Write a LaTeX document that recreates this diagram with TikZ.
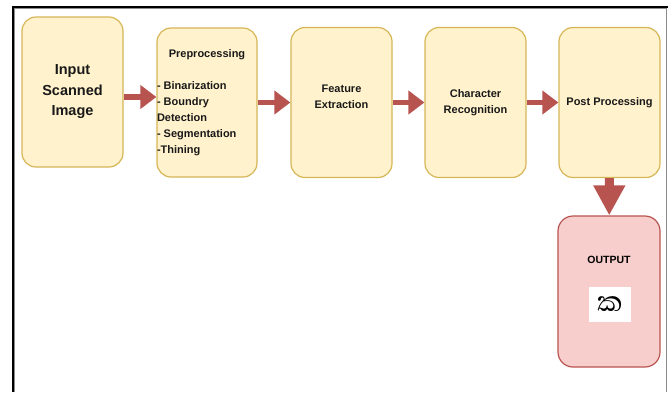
\documentclass[tikz,border=0pt]{standalone}
\usepackage{fontspec}
\setmainfont{Liberation Sans}
\newfontfamily\sinhalafont[Script=Sinhala]{Abhaya Libre}
\usepackage{tikz}
\usetikzlibrary{arrows.meta}
\usetikzlibrary{positioning}
\definecolor{stagefill}{HTML}{FFF2CC}
\definecolor{stageline}{HTML}{D6B656}
\definecolor{outfill}{HTML}{F8CECC}
\definecolor{redline}{HTML}{B85450}
\tikzset{
  % common look of the pipeline boxes
  stage/.style={rectangle, draw=stageline, fill=stagefill, line width=1.2pt,
                rounded corners=14pt, minimum width=101pt, minimum height=150pt,
                inner sep=0pt, align=center, text=black!90,
                font=\bfseries\fontsize{11}{16}\selectfont}
}

\begin{document}
\begin{tikzpicture}[
    x=1pt, y=-1pt,
    bigtext/.style={font=\bfseries\fontsize{14.5}{20.5}\selectfont},
    outbox/.style={stage, draw=redline, fill=outfill, rounded corners=15pt,
                   minimum width=102pt, minimum height=151pt},
    glyphbox/.style={rectangle, fill=white, minimum width=42pt, minimum height=35pt,
                     inner sep=0pt, font=\fontsize{36}{36}\selectfont},
    flow/.style={-{Triangle[length=16pt,width=23pt]}, line width=5.5pt, draw=redline},
    drop/.style={-{Triangle[length=30pt,width=30pt]}, line width=9pt, draw=redline}
]
\useasboundingbox (0,0) rectangle (668,392);

% Frame
\draw[black!45, line width=0.8pt] (14.8,392) -- (14.8,8.8) -- (666.5,8.8) -- (666.5,392);
\draw[line width=2.2pt] (13,392) -- (13,7) -- (668,7);

% Pipeline stages
\node[stage, bigtext] (scan) at (72.5,92) {Input\\Scanned\\Image};
\node[stage, minimum width=100pt, minimum height=149pt] (prep) at (207,102.5)
  {\parbox{100pt}{\centering Preprocessing\par\vspace{16pt}\raggedright
   - Binarization\\- Boundry\\Detection\\- Segmentation\\-Thining}};
\node[stage] (feat) at (341.5,102.5)
  {\parbox{100pt}{\centering Feature\\Extraction\par\vspace{12pt}}};
\node[stage] (chars) at (475.5,102.5) {Character\\Recognition};
\node[stage] (post) at (609.5,102.5) {Post Processing};

% Output
\node[outbox] (result) at (609,291.5) {};
\node[font=\bfseries\fontsize{10.5}{12}\selectfont] (outtxt) at (609,260) {OUTPUT};
\node[glyphbox] (glyph) at (610,304.5) {\sinhalafont ක};

% Arrows
\draw[flow] ([yshift=-5pt]scan.east) -- ([yshift=5.5pt]prep.west);
\draw[flow] (prep) -- (feat);
\draw[flow] (feat) -- (chars);
\draw[flow] (chars) -- (post);
\draw[drop] (post) -- (result);

\end{tikzpicture}
\end{document}
